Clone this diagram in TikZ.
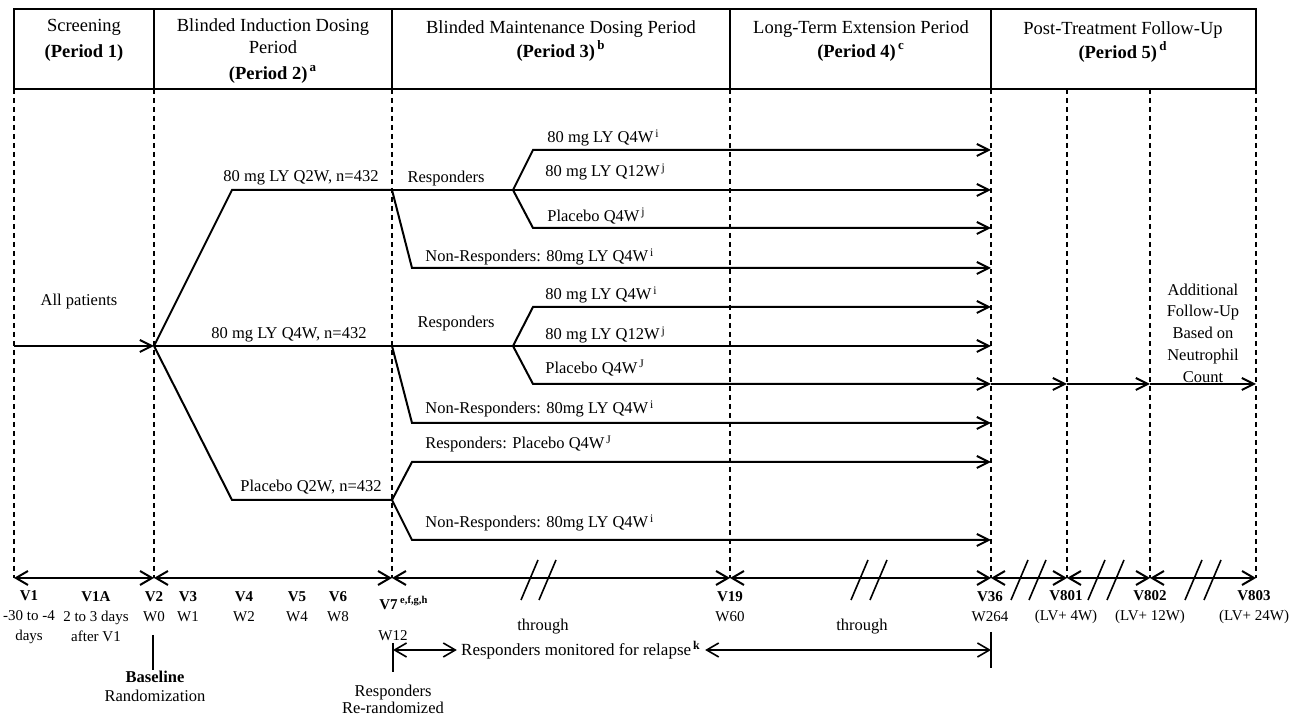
\documentclass[tikz,border=0pt]{standalone}
\usepackage{fontspec}
\setmainfont{Liberation Serif}
\usetikzlibrary{arrows.meta,positioning}

\begin{document}
\begin{tikzpicture}[
    x=0.5pt, y=-0.5pt,
    head/.style={align=center, inner sep=0pt, font=\fontsize{9.25}{12}\selectfont},
    arm/.style={inner sep=0pt, font=\fontsize{8.25}{10}\selectfont},
    visit/.style={align=center, inner sep=0pt, font=\fontsize{7.5}{10}\selectfont},
    note/.style={align=center, inner sep=0pt, font=\fontsize{8.25}{9.5}\selectfont},
    divider/.style={dash pattern=on 2.5pt off 2pt, line width=0.6pt},
    flow/.style={line width=1pt},
    arrow/.style={-{Straight Barb[length=6pt,width=6pt]}, line width=1pt},
    twoway/.style={{Straight Barb[length=6pt,width=7pt]}-{Straight Barb[length=6pt,width=7pt]}, line width=1pt},
    slash/.style={line width=0.8pt}
  ]
    \useasboundingbox (0,0) rectangle (1303,715);
    \draw[line width=1pt] (14,9) rectangle (1256,89);
    \draw[line width=1pt] (154,9) -- (154,89);
    \draw[line width=1pt] (392,9) -- (392,89);
    \draw[line width=1pt] (730,9) -- (730,89);
    \draw[line width=1pt] (991,9) -- (991,89);
    \node[head] (screening) at (84,40) {Screening\\[1pt]\textbf{(Period 1)}};
    \node[head] (induction) at (273,51) {Blinded Induction Dosing\\[-1pt]Period\\[1pt]\textbf{(Period 2)\textsuperscript{\,a}}};
    \node[head] (maintenance) at (561,41) {Blinded Maintenance Dosing Period\\\textbf{(Period 3)\textsuperscript{\,b}}};
    \node[head] (extension) at (861,41) {Long-Term Extension Period\\\textbf{(Period 4)\textsuperscript{\,c}}};
    \node[head] (followup) at (1123,42) {Post-Treatment Follow-Up\\\textbf{(Period 5)\textsuperscript{\,d}}};
    \draw[divider] (14,89) -- (14,578);
    \draw[divider] (154,89) -- (154,578);
    \draw[divider] (392,89) -- (392,578);
    \draw[divider] (730,89) -- (730,578);
    \draw[divider] (991,89) -- (991,578);
    \draw[divider] (1067,89) -- (1067,578);
    \draw[divider] (1150,89) -- (1150,578);
    \draw[divider] (1256,89) -- (1256,578);
    \coordinate (t0) at (14,578);
    \coordinate (t1) at (154,578);
    \coordinate (t2) at (392,578);
    \coordinate (t3) at (730,578);
    \coordinate (t4) at (991,578);
    \coordinate (t5) at (1067,578);
    \coordinate (t6) at (1150,578);
    \coordinate (t7) at (1256,578);
    \draw[twoway] (t0) -- (t1);
    \draw[twoway] (t1) -- (t2);
    \draw[twoway] (t2) -- (t3);
    \draw[twoway] (t3) -- (t4);
    \draw[twoway] (t4) -- (t5);
    \draw[twoway] (t5) -- (t6);
    \draw[twoway] (t6) -- (t7);
    \foreach \x in {521,539,851,870,1011,1029,1088,1107,1185,1204}
      \draw[slash] (\x,600) -- ++(17,-40);
    \coordinate (start) at (14,346);
    \coordinate (split) at (154,346);
    \coordinate (q2wbend) at (232,190);
    \coordinate (q2w) at (392,190);
    \coordinate (q4w) at (392,346);
    \coordinate (pbobend) at (232,500);
    \coordinate (pbo) at (392,500);
    \draw[arrow] (start) -- (split);
    \draw[flow] (split) -- (q2wbend) -- (q2w);
    \draw[flow] (split) -- (q4w);
    \draw[flow] (split) -- (pbobend) -- (pbo);
    \node[arm] (allpat) at (79,302) {All patients};
    \node[arm] (q2wlab) at (301,178) {80 mg LY Q2W, n=432};
    \node[arm] (q4wlab) at (289,335) {80 mg LY Q4W, n=432};
    \node[arm] (pbolab) at (311,487) {Placebo Q2W, n=432};
    \coordinate (r1) at (513,190);
    \coordinate (r1a) at (533,150);
    \coordinate (r1ae) at (991,150);
    \coordinate (r1be) at (991,190);
    \coordinate (r1c) at (533,228);
    \coordinate (r1ce) at (991,228);
    \coordinate (n1) at (412,268);
    \coordinate (n1e) at (991,268);
    \draw[flow] (q2w) -- (r1);
    \draw[arrow] (r1) -- (r1a) -- (r1ae);
    \draw[arrow] (r1) -- (r1be);
    \draw[arrow] (r1) -- (r1c) -- (r1ce);
    \draw[arrow] (q2w) -- (n1) -- (n1e);
    \node[arm] (resp1) at (446,179) {Responders};
    \node[arm, anchor=west] (r1alab) at (547,138) {80 mg LY Q4W\textsuperscript{\,i}};
    \node[arm, anchor=west] (r1blab) at (545,172) {80 mg LY Q12W\textsuperscript{\,j}};
    \node[arm, anchor=west] (r1clab) at (547,216) {Placebo Q4W\textsuperscript{\,j}};
    \node[arm, anchor=west] (n1lab) at (425,257) {Non-Responders: 80mg LY Q4W\textsuperscript{\,i}};
    \coordinate (r2) at (513,346);
    \coordinate (r2a) at (533,307);
    \coordinate (r2ae) at (991,307);
    \coordinate (r2be) at (991,346);
    \coordinate (r2c) at (533,384);
    \coordinate (r2ce) at (991,384);
    \coordinate (fu1) at (1067,384);
    \coordinate (fu2) at (1150,384);
    \coordinate (fu3) at (1256,384);
    \coordinate (n2) at (412,423);
    \coordinate (n2e) at (991,423);
    \draw[flow] (q4w) -- (r2);
    \draw[arrow] (r2) -- (r2a) -- (r2ae);
    \draw[arrow] (r2) -- (r2be);
    \draw[arrow] (r2) -- (r2c) -- (r2ce);
    \draw[arrow] (r2ce) -- (fu1);
    \draw[arrow] (fu1) -- (fu2);
    \draw[arrow] (fu2) -- (fu3);
    \draw[arrow] (q4w) -- (n2) -- (n2e);
    \node[arm] (resp2) at (456,324) {Responders};
    \node[arm, anchor=west] (r2alab) at (545,295) {80 mg LY Q4W\textsuperscript{\,i}};
    \node[arm, anchor=west] (r2blab) at (545,335) {80 mg LY Q12W\textsuperscript{\,j}};
    \node[arm, anchor=west] (r2clab) at (545,368) {Placebo Q4W\textsuperscript{\,J}};
    \node[arm, anchor=west] (n2lab) at (425,409) {Non-Responders: 80mg LY Q4W\textsuperscript{\,i}};
    \node[note, font=\fontsize{8.25}{10.85}\selectfont] (addfu) at (1203,333) {Additional\\Follow-Up\\Based on\\Neutrophil\\Count};
    \coordinate (r3) at (412,462);
    \coordinate (r3e) at (991,462);
    \coordinate (n3) at (412,540);
    \coordinate (n3e) at (991,540);
    \draw[arrow] (pbo) -- (r3) -- (r3e);
    \draw[arrow] (pbo) -- (n3) -- (n3e);
    \node[arm, anchor=west] (r3lab) at (425,444) {Responders: Placebo Q4W\textsuperscript{\,J}};
    \node[arm, anchor=west] (n3lab) at (425,523) {Non-Responders: 80mg LY Q4W\textsuperscript{\,i}};
    \node[visit] (v1) at (29,617) {\textbf{V1}\\-30 to -4\\days};
    \node[visit] (v1a) at (96,617) {\textbf{V1A}\\2 to 3 days\\after V1};
    \node[visit] (v2) at (154,607) {\textbf{V2}\\W0};
    \node[visit] (v3) at (188,607) {\textbf{V3}\\W1};
    \node[visit] (v4) at (244,607) {\textbf{V4}\\W2};
    \node[visit] (v5) at (297,607) {\textbf{V5}\\W4};
    \node[visit] (v6) at (338,607) {\textbf{V6}\\W8};
    \node[visit, anchor=west] (v7) at (379,603) {\textbf{V7}\,\textsuperscript{\textbf{e,f,g,h}}};
    \node[visit] (w12) at (393,636) {W12};
    \node[visit] (v19) at (730,607) {\textbf{V19}\\W60};
    \node[visit] (v36) at (990,607) {\textbf{V36}\\W264};
    \node[visit] (v801) at (1066,607) {\textbf{V801}\\(LV+ 4W)};
    \node[visit] (v802) at (1150,607) {\textbf{V802}\\(LV+ 12W)};
    \node[visit] (v803) at (1254,607) {\textbf{V803}\\(LV+ 24W)};
    \node[note] (through1) at (543,627) {through};
    \node[note] (through2) at (862,627) {through};
    \node[note, font=\fontsize{8.25}{9.5}\selectfont] (baseline) at (155,686) {\textbf{Baseline}\\Randomization};
    \node[note, font=\fontsize{8.25}{8.5}\selectfont] (rerand) at (393,699) {Responders\\Re-randomized};
    \node[note, font=\fontsize{8.5}{10}\selectfont, inner xsep=2pt] (rel) at (581,650) {Responders monitored for relapse\textsuperscript{\,\textbf{k}}};
    \coordinate (bltop) at (153,635);
    \draw[line width=0.8pt] (bltop) -- (bltop |- baseline.north);
    \coordinate (rrtop) at (393,643);
    \coordinate (rrbot) at (393,672);
    \draw[line width=0.8pt] (rrtop) -- (rrbot);
    \coordinate (ltetop) at (991,632);
    \coordinate (ltebot) at (991,668);
    \draw[line width=0.8pt] (ltetop) -- (ltebot);
    \coordinate (rell) at (393,650);
    \coordinate (relr) at (991,650);
    \draw[twoway, line width=0.8pt] (rell) -- (rel.west);
    \draw[twoway, line width=0.8pt] (rel.east) -- (relr);
  \end{tikzpicture}
\end{document}
